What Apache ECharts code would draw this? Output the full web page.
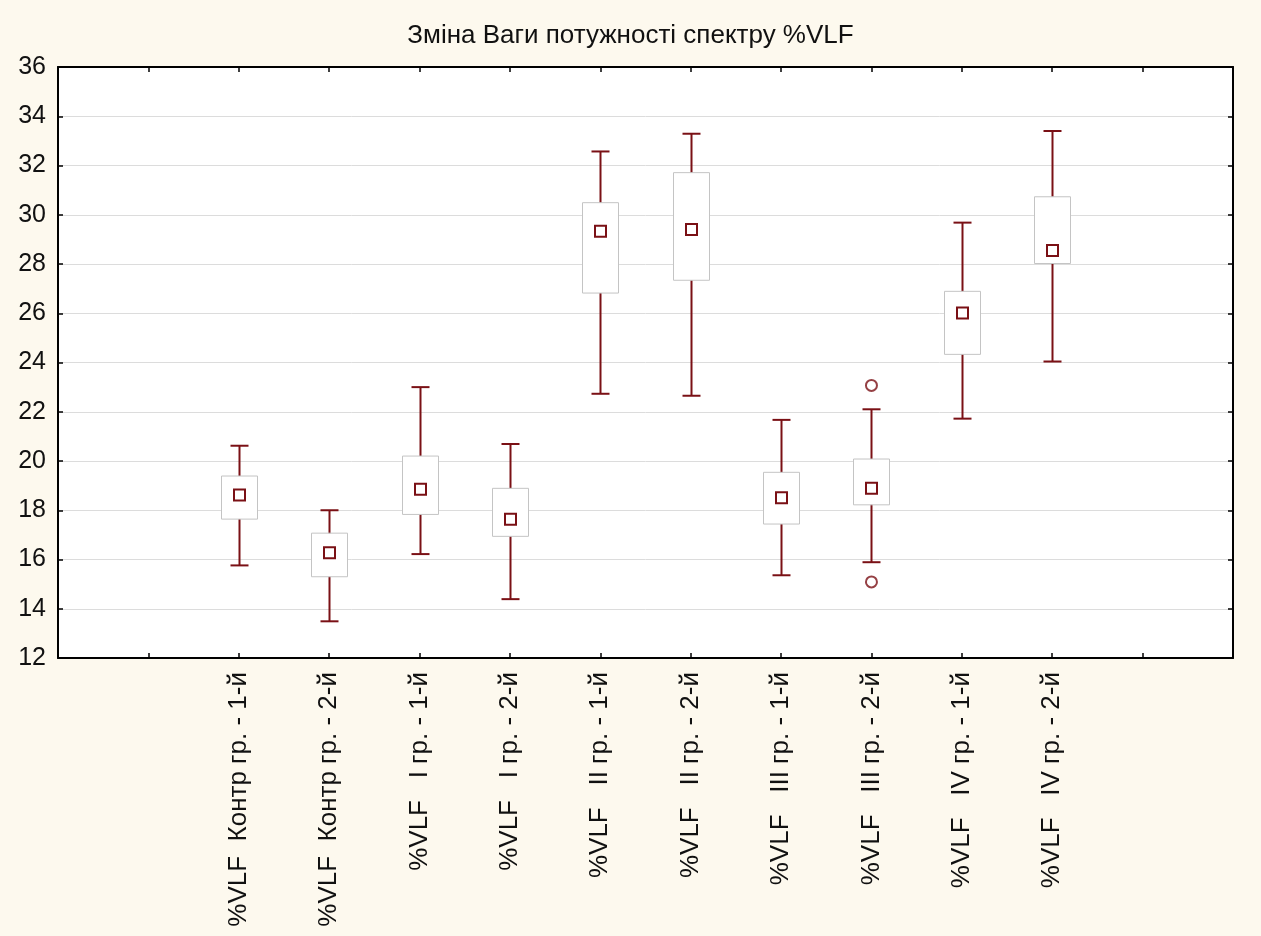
<!DOCTYPE html>
<html>
<head>
<meta charset="utf-8">
<script src="https://cdn.jsdelivr.net/npm/echarts@6/dist/echarts.min.js"></script>
<style>
html,body{margin:0;padding:0;background:#fdf9ee;}
#chart{width:1261px;height:936px;}
</style>
</head>
<body>
<div id="chart"></div>
<script>
const titleText = 'Зміна Ваги потужності спектру %VLF';
const categories = [
  '%VLF  Контр гр. - 1-й', '%VLF  Контр гр. - 2-й',
  '%VLF   I гр. - 1-й', '%VLF   I гр. - 2-й',
  '%VLF   II гр. - 1-й', '%VLF   II гр. - 2-й',
  '%VLF   III гр. - 1-й', '%VLF   III гр. - 2-й',
  '%VLF   IV гр. - 1-й', '%VLF   IV гр. - 2-й'
];
const positions   = [2, 3, 4, 5, 6, 7, 8, 9, 10, 11];
const means       = [18.62, 16.27, 18.85, 17.63, 29.33, 29.40, 18.51, 18.89, 26.01, 28.55];
const boxLow      = [17.64, 15.30, 17.83, 16.94, 26.82, 27.34, 17.44, 18.22, 24.33, 28.02];
const boxHigh     = [19.39, 17.07, 20.20, 18.89, 30.49, 31.71, 19.54, 20.08, 26.89, 30.73];
const whiskerLow  = [15.76, 13.49, 16.22, 14.39, 22.73, 22.65, 15.36, 15.89, 21.72, 24.04];
const whiskerHigh = [20.62, 18.00, 23.00, 20.69, 32.57, 33.29, 21.67, 22.10, 29.68, 33.40];
const outlierPos    = [9, 9];
const outlierValues = [23.07, 15.09];
const yTicks = {min: 12, max: 36, step: 2};

const red = '#7a1015';
const font = 'Liberation Sans, Arial, sans-serif';

const boxData = positions.map((p, i) => [p, whiskerLow[i], boxLow[i], means[i], boxHigh[i], whiskerHigh[i]]);
const outlierData = outlierPos.map((p, i) => [p, outlierValues[i]]);

function renderBox(params, api) {
  const x = api.value(0);
  const wl = api.coord([x, api.value(1)]);
  const bl = api.coord([x, api.value(2)]);
  const m  = api.coord([x, api.value(3)]);
  const bh = api.coord([x, api.value(4)]);
  const wh = api.coord([x, api.value(5)]);
  const bw = 36, cw = 18, ms = 11;
  const cx = Math.round(wl[0]) + 0.5;
  return {
    type: 'group',
    children: [
      {type: 'line', shape: {x1: cx, y1: wl[1], x2: cx, y2: wh[1]}, style: {stroke: red, lineWidth: 2}},
      {type: 'line', shape: {x1: cx - cw / 2, y1: wl[1], x2: cx + cw / 2, y2: wl[1]}, style: {stroke: red, lineWidth: 2}},
      {type: 'line', shape: {x1: cx - cw / 2, y1: wh[1], x2: cx + cw / 2, y2: wh[1]}, style: {stroke: red, lineWidth: 2}},
      {type: 'rect', shape: {x: cx - bw / 2, y: bh[1], width: bw, height: bl[1] - bh[1]},
        style: {fill: '#ffffff', stroke: '#c4c4c4', lineWidth: 1}},
      {type: 'rect', shape: {x: cx - ms / 2, y: m[1] - ms / 2, width: ms, height: ms},
        style: {fill: '#ffffff', stroke: red, lineWidth: 2}}
    ]
  };
}

const chart = echarts.init(document.getElementById('chart'), null, {renderer: 'canvas'});
const axisLine = {show: true, onZero: false, lineStyle: {color: '#000', width: 2}};
const tick = {show: true, inside: true, length: 5, lineStyle: {color: '#000', width: 1.5}};
chart.setOption({
  backgroundColor: '#fdf9ee',
  animation: false,
  title: {
    text: titleText, left: 'center', top: 18,
    textStyle: {fontFamily: font, fontSize: 26, fontWeight: 'normal', color: '#111'}
  },
  grid: {left: 58, top: 67, right: 28, bottom: 278, show: true, backgroundColor: '#ffffff', borderWidth: 0},
  xAxis: [
    {
      type: 'value', min: 0, max: 13, interval: 1, position: 'bottom',
      axisLine: axisLine,
      axisTick: {show: true, inside: true, length: 5, lineStyle: {color: '#000', width: 1.5}},
      splitLine: {show: false},
      axisLabel: {
        rotate: 90, margin: 14, fontFamily: font, fontSize: 26, color: '#111',
        formatter: v => { const i = positions.indexOf(v); return i >= 0 ? categories[i] : ''; }
      }
    },
    {
      type: 'value', min: 0, max: 13, interval: 1, position: 'top',
      axisLine: axisLine, axisTick: tick, splitLine: {show: false}, axisLabel: {show: false}
    }
  ],
  yAxis: [
    {
      type: 'value', min: yTicks.min, max: yTicks.max, interval: yTicks.step, position: 'left',
      axisLine: axisLine, axisTick: tick,
      splitLine: {show: true, lineStyle: {color: '#dcdcdc', width: 1}},
      axisLabel: {margin: 12, fontFamily: font, fontSize: 25, color: '#111'}
    },
    {
      type: 'value', min: yTicks.min, max: yTicks.max, interval: yTicks.step, position: 'right',
      axisLine: axisLine, axisTick: tick, splitLine: {show: false}, axisLabel: {show: false}
    }
  ],
  series: [
    {
      type: 'custom', xAxisIndex: 0, yAxisIndex: 0,
      renderItem: renderBox, data: boxData, z: 5,
      encode: {x: 0, y: [1, 2, 3, 4, 5]}
    },
    {
      type: 'scatter', xAxisIndex: 0, yAxisIndex: 0, data: outlierData,
      symbol: 'circle', symbolSize: 11, z: 6,
      itemStyle: {color: '#ffffff', borderColor: red, borderWidth: 2}
    }
  ]
});
</script>
</body>
</html>
